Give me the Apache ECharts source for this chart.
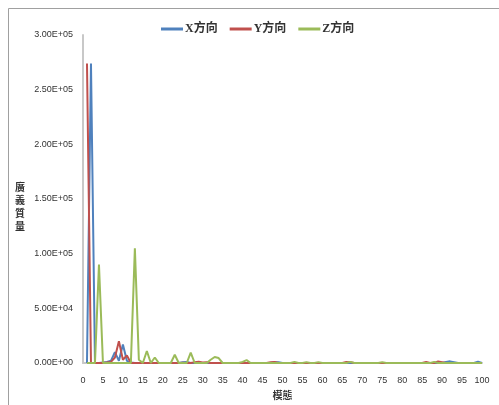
<!DOCTYPE html>
<html>
<head>
<meta charset="utf-8">
<script src="https://cdn.jsdelivr.net/npm/echarts@6/dist/echarts.min.js"></script>
<style>html,body{margin:0;padding:0;background:#fff;}#c{width:499px;height:405px;}</style>
</head>
<body>
<div id="c"></div>
<script>
// Modes 1..100
const modes = [1,2,3,4,5,6,7,8,9,10,11,12,13,14,15,16,17,18,19,20,21,22,23,24,25,26,27,28,29,30,31,32,33,34,35,36,37,38,39,40,41,42,43,44,45,46,47,48,49,50,51,52,53,54,55,56,57,58,59,60,61,62,63,64,65,66,67,68,69,70,71,72,73,74,75,76,77,78,79,80,81,82,83,84,85,86,87,88,89,90,91,92,93,94,95,96,97,98,99,100];
const xDir = [0,274000,0,0,500,1000,2000,10000,2000,17000,2000,500,0,0,0,0,0,0,0,0,0,0,0,0,800,1000,0,0,0,0,0,0,0,0,0,0,0,0,0,0,0,0,0,0,0,0,0,800,800,0,0,0,0,0,0,0,0,0,0,0,0,0,0,0,0,0,0,0,0,0,0,0,0,0,0,0,0,0,0,0,0,0,0,0,0,0,0,0,0,0,1000,1500,800,0,0,0,0,0,1200,0];
const yDir = [274000,0,0,0,0,500,1000,5000,20000,3000,7000,0,0,0,0,0,0,0,0,0,0,0,0,0,300,0,0,800,1200,500,800,0,0,0,0,0,0,0,0,0,0,0,0,0,0,0,800,1000,0,0,0,0,0,0,0,0,0,0,0,0,0,0,0,0,0,1000,800,0,0,0,0,0,0,0,0,0,0,0,0,0,0,0,0,0,0,1000,0,0,1500,800,0,0,0,0,0,0,0,0,0,0];
const zDir = [0,0,0,90000,0,0,0,0,0,0,0,0,105000,3000,0,11000,0,5000,0,0,0,0,7500,0,0,0,9500,0,0,0,0,3000,5500,4500,0,0,0,0,0,1000,2700,0,0,0,0,0,0,0,0,0,0,0,1000,0,0,800,0,0,800,0,0,0,0,0,0,0,1000,0,0,0,0,0,0,0,800,0,0,0,0,0,0,0,0,0,0,0,0,1000,0,0,0,0,0,0,0,0,0,0,0,0];
const seriesNames = ['X方向','Y方向','Z方向'];
const colors = ['#4F81BD','#C0504D','#9BBB59'];
const yTicks = [0,50000,100000,150000,200000,250000,300000];

function sci(v){
  if (v === 0) return '0.00E+00';
  const e = Math.floor(Math.log10(v));
  const m = v / Math.pow(10, e);
  return m.toFixed(2) + 'E+' + String(e).padStart(2,'0');
}
const pairs = arr => modes.map((m,i)=>[m, arr[i]]);
const chart = echarts.init(document.getElementById('c'));
chart.setOption({
  animation:false,
  backgroundColor:'#fff',
  color: colors,
  graphic:[
    {type:'rect',shape:{x:8.5,y:8.5,width:600,height:600},style:{fill:'none',stroke:'#a0a0a0',lineWidth:1}},
    {type:'text',left:15,top:181,style:{text:'廣\n義\n質\n量',font:"bold 10px 'Noto Sans CJK TC'",fill:'#333',lineHeight:13}}
  ],
  legend:{
    top:18, left:156, itemWidth:22, itemHeight:3, itemGap:12, icon:'rect',
    textStyle:{fontFamily:"'Liberation Serif','Noto Sans CJK TC'",fontWeight:'bold',fontSize:12,color:'#333',padding:[0,0,0,-3]},
    data: seriesNames
  },
  grid:{left:83, right:17, top:35, bottom:42, containLabel:false},
  xAxis:{
    type:'value', min:0, max:100, interval:5,
    name:'模態', nameLocation:'middle', nameGap:23,
    nameTextStyle:{fontFamily:"'Noto Sans CJK TC'",fontWeight:'bold',fontSize:10,color:'#333'},
    axisLine:{lineStyle:{color:'#c8c8c8',width:2}},
    axisTick:{show:false},
    splitLine:{show:false},
    axisLabel:{fontFamily:"'Liberation Sans'",fontSize:9,color:'#333',margin:13}
  },
  yAxis:{
    type:'value', min:yTicks[0], max:yTicks[yTicks.length-1], interval:50000,
    axisLine:{show:true,lineStyle:{color:'#c8c8c8',width:2}},
    axisTick:{show:false},
    splitLine:{show:false},
    axisLabel:{fontFamily:"'Liberation Sans'",fontSize:9,color:'#333',margin:10,formatter:sci}
  },
  series:[
    {name:seriesNames[0],type:'line',data:pairs(xDir),symbol:'none',lineStyle:{width:2},z:2},
    {name:seriesNames[1],type:'line',data:pairs(yDir),symbol:'none',lineStyle:{width:2},z:3},
    {name:seriesNames[2],type:'line',data:pairs(zDir),symbol:'none',lineStyle:{width:2},z:4}
  ]
});
</script>
</body>
</html>
